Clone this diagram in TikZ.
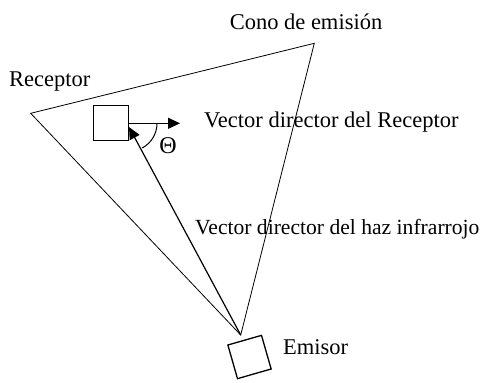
\documentclass[tikz,border=0pt]{standalone}
\usepackage{fontspec}
\setmainfont{Liberation Serif}
\usetikzlibrary{arrows.meta}
\begin{document}
\begin{tikzpicture}[x=1pt,y=-1pt,
  lbl/.style={font=\fontsize{22.5}{26}\selectfont,inner sep=0pt},
  box/.style={draw,line width=1.3pt,minimum size=35pt,inner sep=0pt},
  cone/.style={line width=0.8pt},
  vec/.style={line width=1.2pt,-{Triangle[length=12pt,width=11pt]}}]
\useasboundingbox (0,0) rectangle (486,382);
\coordinate (L) at (30.7,113.3);
\coordinate (T) at (314.3,43.3);
\coordinate (E) at (240.7,335);
\draw[cone] (L) -- (T) -- (E) -- cycle;
\node[box] (rec) at (111,122.7) {};
\node[box,rotate=16] (emi) at (249.5,357) {};
\coordinate (recdir) at (180,123.3);
\coordinate (beamtip) at (129,127);
\draw[vec] (rec.east |- recdir) -- (recdir);
\draw[vec] (E) -- (beamtip);
\draw[line width=1pt] (157,123.3) arc[start angle=0,end angle=62,radius=28];
\node[lbl,font=\fontsize{24}{28}\selectfont] (theta) at (168,146) {Θ};
\node[lbl] (cono) at (306,21.7) {Cono de emisión};
\node[lbl,anchor=west] (rl) at (9,82) {Receptor};
\node[lbl,anchor=west] (vr) at (204,122) {Vector director del Receptor};
\node[lbl,anchor=west,font=\fontsize{21.6}{25}\selectfont] (vh) at (195,229) {Vector director del haz infrarrojo};
\node[lbl,anchor=west] (el) at (283,347) {Emisor};
\end{tikzpicture}
\end{document}
